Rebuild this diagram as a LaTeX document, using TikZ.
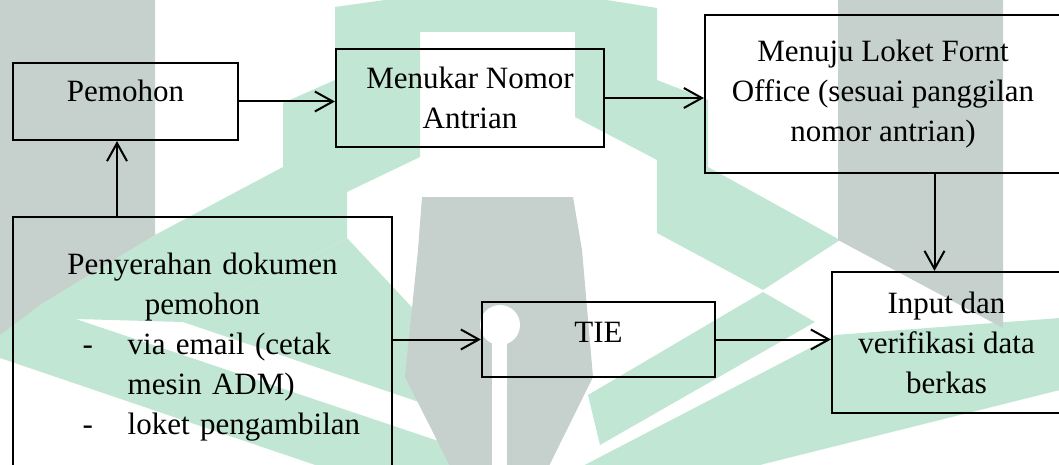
\documentclass[tikz,border=0pt]{standalone}
\usepackage{fontspec}
\setmainfont{Liberation Serif}
\usepackage{tikz}
\usetikzlibrary{arrows.meta, positioning, calc}

\definecolor{wmgreen}{RGB}{193,230,211}
\definecolor{wmgray}{RGB}{198,208,205}

\begin{document}
\begin{tikzpicture}[
    x=0.5pt, y=-0.5pt,
    font=\fontsize{15.5}{20}\selectfont,
    % Styles
    box/.style={
        draw, line width=1.1pt, align=center, inner sep=2pt
    },
    oneline/.style={text height=6pt, text depth=6pt},
    arrow/.style={-{Straight Barb[length=9pt,width=10pt]}, line width=1pt}
]
    \useasboundingbox (0,0) rectangle (1059,465);

    % --- Watermark (background logo) ---
    \fill[wmgreen] (0,325) -- (40,305) -- (155,235) -- (283,167) -- (283,103)
        -- (335,80) -- (335,7) -- (420,-5) -- (575,-5) -- (657,8) -- (657,80)
        -- (708,100) -- (708,167) -- (840,240) -- (763,290) -- (657,233)
        -- (657,160) -- (575,117) -- (575,32) -- (420,32) -- (420,157)
        -- (347,192) -- (347,238) -- (183,322) -- (40,318) -- cycle;
    \fill[wmgreen] (183,322) -- (347,238) -- (422,318) -- (422,403) -- cycle;
    \fill[wmgreen] (0,330) -- (40,307) -- (480,455) -- (480,470) -- (330,470)
        -- (0,358) -- cycle;
    \fill[wmgreen] (763,292) -- (815,322) -- (600,445) -- (588,395) -- cycle;
    \fill[wmgreen] (575,470) -- (835,335) -- (1060,318) -- (1060,390)
        -- (740,470) -- cycle;
    \fill[wmgray] (0,-5) -- (155,-5) -- (155,235) -- (40,305) -- (0,335) -- cycle;
    \fill[wmgray] (838,-5) -- (1003,-5) -- (1003,328) -- (838,240) -- cycle;
    \fill[wmgray] (422,197) -- (573,197) -- (582,250) -- (593,377) -- (547,470)
        -- (452,470) -- (405,377) -- (418,250) -- cycle;
    \fill[white] (500,325) circle[radius=20];
    \fill[white] (492,325) rectangle (507,470);

    % --- Row 1 ---
    \node[box, oneline, minimum width=112.5pt, minimum height=38.5pt]
        (pemohon) at (125.5,101.5) {Pemohon};

    \node[box, minimum width=134pt, minimum height=49pt]
        (menukar) at (470,98) {Menukar Nomor\\Antrian};

    \node[box, minimum width=178pt, minimum height=79pt]
        (menuju) at (883,94) {Menuju Loket Fornt\\Office (sesuai panggilan\\nomor antrian)};

    % --- Row 2 ---
    \node[box, align=left, inner xsep=0pt, text width=189.8pt, minimum height=130pt]
        (serah) at (202.5,347) {
        \makebox[189.8pt]{Penyerahan dokumen}\\
        \makebox[189.8pt]{pemohon}\\
        \hspace*{35pt}\makebox[22.5pt][l]{-}via email (cetak\\
        \hspace*{57.5pt}mesin ADM)\\
        \hspace*{35pt}\makebox[22.5pt][l]{-}loket pengambilan
    };

    \node[box, oneline, text height=7.5pt, text depth=4.5pt,
        minimum width=116.5pt, minimum height=37.5pt]
        (tie) at (598.5,339.5) {TIE};

    \node[box, minimum width=114.5pt, minimum height=70.5pt]
        (input) at (946.5,342.5) {Input dan\\verifikasi data\\berkas};

    % --- Connections ---
    \draw[arrow] ([xshift=-4.25pt]pemohon.south |- serah.north) -- ([xshift=-4.25pt]pemohon.south);
    \draw[arrow] (pemohon.east) -- (pemohon.east -| menukar.west);
    \draw[arrow] (menukar.east) -- (menukar.east -| menuju.west);
    \draw[arrow] ([xshift=-6pt]input.north |- menuju.south) -- ([xshift=-6pt]input.north);
    \draw[arrow] (tie.west -| serah.east) -- (tie.west);
    \draw[arrow] (tie.east) -- (tie.east -| input.west);

\end{tikzpicture}
\end{document}
